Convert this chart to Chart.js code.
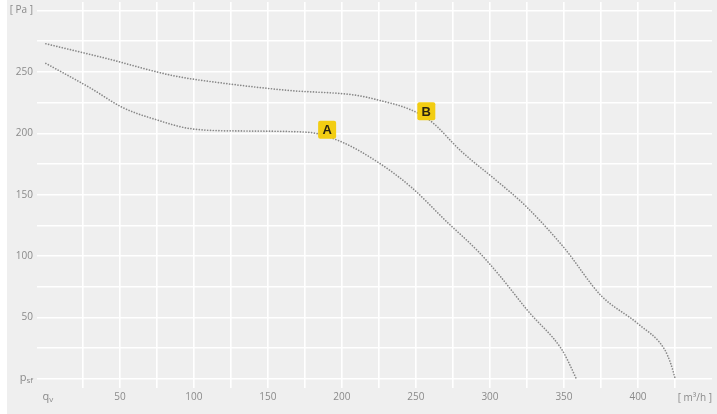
<!DOCTYPE html>
<html>
<head>
<meta charset="utf-8">
<script src="https://cdn.jsdelivr.net/npm/chart.js@4/dist/chart.umd.min.js"></script>
<style>
  html, body { margin: 0; padding: 0; background: #ffffff; }
  #wrap { width: 717px; height: 414px; }
</style>
</head>
<body>
<div id="wrap"><canvas id="fanChart" width="717" height="414"></canvas></div>
<script>
// airflow [m3/h] and static pressure [Pa]
const flowA = [0, 30, 52, 75, 97, 131, 176, 198, 225, 247, 270, 292, 306, 326, 348, 353, 358];
const pressA = [257, 237, 221, 211, 204, 202, 201, 194, 176, 156, 129, 104, 85, 55, 25, 14, 1];

const flowB = [0, 41, 86, 119, 164, 210, 225, 245, 259, 281, 304, 324, 350, 375, 400, 418, 422, 425];
const pressB = [273, 261, 247, 241, 235, 231, 227, 220, 211, 185, 162, 141, 107, 68, 45, 24, 13, 1];

// curve markers
const markerNames = ["A", "B"];
const markerFlow = [190, 257];
const markerPress = [203, 218];

// tick values
const xTicks = [0, 25, 50, 75, 100, 125, 150, 175, 200, 225, 250, 275, 300, 325, 350, 375, 400, 425, 450];
const yTicks = [0, 25, 50, 75, 100, 125, 150, 175, 200, 225, 250, 275, 300];

const labelColor = "#8a8a8a";
const dotColor = "#888888";

function toPoints(xs, ys) {
  return xs.map((x, i) => ({ x: x, y: ys[i] }));
}

// grey panel behind the plot
const panelBg = {
  id: "panelBg",
  beforeDraw(chart) {
    const ctx = chart.ctx;
    ctx.save();
    ctx.fillStyle = "#efefef";
    ctx.fillRect(7, 0, chart.width - 7, chart.height);
    ctx.restore();
  },
};

// q_v, p_sf, units and the A / B boxes
const extras = {
  id: "extras",
  afterDatasetsDraw(chart) {
    const ctx = chart.ctx;
    const xs = chart.scales.x;
    const ys = chart.scales.y;
    ctx.save();

    // p_sf at y = 0
    const y0 = ys.getPixelForValue(0);
    ctx.fillStyle = labelColor;
    ctx.textBaseline = "middle";
    ctx.font = "11px 'Open Sans'";
    const pw = ctx.measureText("p").width;
    ctx.font = "8px 'Open Sans'";
    const sw = ctx.measureText("sf").width;
    let left = 33 - pw - sw;
    ctx.font = "11px 'Open Sans'";
    ctx.textAlign = "left";
    ctx.fillText("p", left, y0 - 1);
    ctx.font = "8px 'Open Sans'";
    ctx.fillText("sf", left + pw, y0 + 2);

    // q_v at x = 0
    const x0 = xs.getPixelForValue(0);
    const ty = 398;
    ctx.font = "11px 'Open Sans'";
    const qw = ctx.measureText("q").width;
    ctx.font = "8px 'Open Sans'";
    const vw = ctx.measureText("v").width;
    left = x0 - (qw + vw) / 2 + 2;
    ctx.font = "11px 'Open Sans'";
    ctx.fillText("q", left, ty - 1);
    ctx.font = "8px 'Open Sans'";
    ctx.fillText("v", left + qw, ty + 2);

    // unit of the x axis
    ctx.font = "10px 'Open Sans'";
    ctx.textAlign = "right";
    ctx.fillText("[ m\u00b3/h ]", 712, ty);

    // yellow markers
    markerNames.forEach((name, i) => {
      const px = xs.getPixelForValue(markerFlow[i]);
      const py = ys.getPixelForValue(markerPress[i]);
      ctx.fillStyle = "#f2cd12";
      ctx.beginPath();
      ctx.roundRect(px - 9, py - 9, 18, 18, 2);
      ctx.fill();
      ctx.fillStyle = "#2a2410";
      ctx.font = "bold 13px 'Liberation Sans'";
      ctx.textAlign = "center";
      ctx.textBaseline = "middle";
      ctx.fillText(name, px, py + 1);
    });
    ctx.restore();
  },
};

const ctx = document.getElementById("fanChart").getContext("2d");
new Chart(ctx, {
  type: "line",
  data: {
    datasets: [
      {
        label: "A",
        data: toPoints(flowA, pressA),
        borderColor: dotColor,
        borderWidth: 1.7,
        borderDash: [0.01, 2.8],
        borderCapStyle: "round",
        cubicInterpolationMode: "monotone",
        pointRadius: 0,
        fill: false,
      },
      {
        label: "B",
        data: toPoints(flowB, pressB),
        borderColor: dotColor,
        borderWidth: 1.7,
        borderDash: [0.01, 2.8],
        borderCapStyle: "round",
        cubicInterpolationMode: "monotone",
        pointRadius: 0,
        fill: false,
      },
    ],
  },
  options: {
    responsive: false,
    animation: false,
    layout: { padding: { left: 0, right: 5, top: 2, bottom: 0 } },
    plugins: {
      legend: { display: false },
      tooltip: { enabled: false },
    },
    scales: {
      x: {
        type: "linear",
        min: -6,
        max: 450,
        afterBuildTicks(scale) {
          scale.ticks = xTicks.map((v) => ({ value: v }));
        },
        afterFit(scale) {
          scale.height = 35;
          scale.paddingLeft = 0;
          scale.paddingRight = 0;
        },
        border: { display: false },
        grid: {
          color: (c) =>
            c.tick && (c.tick.value === 0 || c.tick.value === 450)
              ? "rgba(0,0,0,0)"
              : "#ffffff",
          lineWidth: 1.6,
          drawTicks: true,
          tickLength: 9,
        },
        ticks: {
          padding: 3,
          maxRotation: 0,
          autoSkip: false,
          color: labelColor,
          font: { family: "'Open Sans'", size: 10 },
          callback: (v) => (v > 0 && v < 450 && v % 50 === 0 ? String(v) : ""),
        },
      },
      y: {
        type: "linear",
        min: 0,
        max: 307,
        afterBuildTicks(scale) {
          scale.ticks = yTicks.map((v) => ({ value: v }));
        },
        afterFit(scale) {
          scale.width = 37;
          scale.paddingTop = 0;
          scale.paddingBottom = 0;
        },
        border: { display: false },
        grid: {
          color: "#ffffff",
          lineWidth: 1.6,
          drawTicks: false,
        },
        ticks: {
          padding: 4,
          autoSkip: false,
          color: labelColor,
          font: { family: "'Open Sans'", size: 10 },
          callback: (v) => {
            if (v === 300) return "[ Pa ]";
            if (v > 0 && v % 50 === 0) return String(v);
            return "";
          },
        },
      },
    },
  },
  plugins: [panelBg, extras],
});
</script>
</body>
</html>
